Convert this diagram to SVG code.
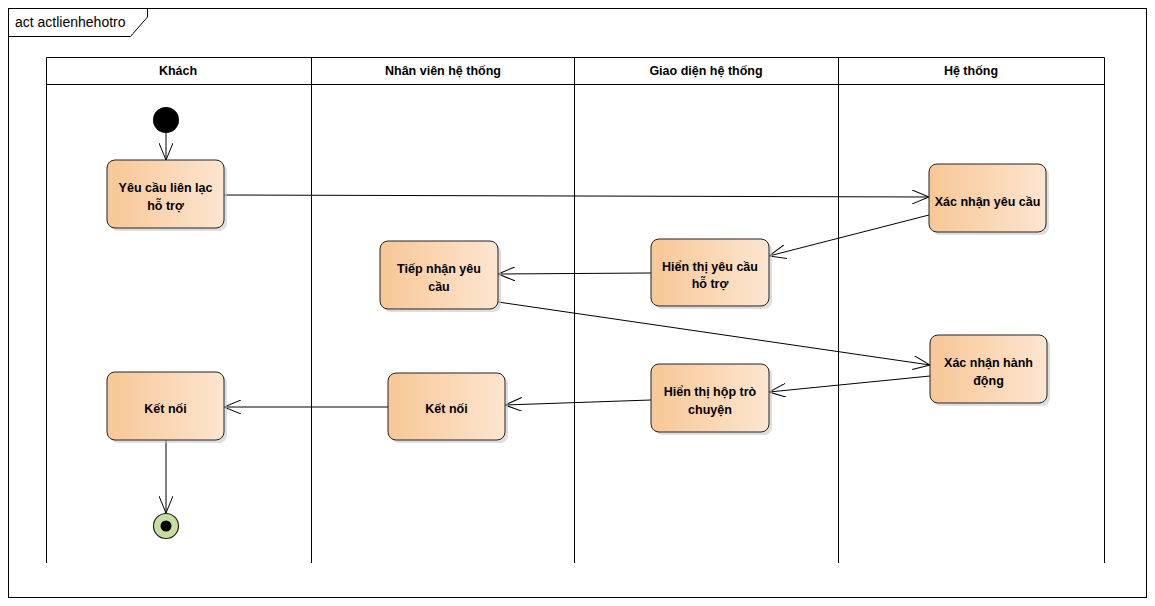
<svg xmlns="http://www.w3.org/2000/svg" width="1155" height="606" viewBox="0 0 1155 606">
<defs>
<linearGradient id="g" x1="0" y1="0" x2="1" y2="0">
<stop offset="0" stop-color="#F7C796"/>
<stop offset="1" stop-color="#FDE5D0"/>
</linearGradient>
<marker id="a" markerWidth="20" markerHeight="14" refX="17" refY="7" orient="auto" markerUnits="userSpaceOnUse">
<path d="M0,0 L17,7 L0,14" fill="none" stroke="#000" stroke-width="1"/>
</marker>
<style>
text{font-family:"Liberation Sans",Arial,sans-serif;font-weight:bold;font-size:12.5px;fill:#000;text-anchor:middle}
.t{text-anchor:start;font-weight:normal;font-size:14px}
.n{fill:url(#g);stroke:#222;stroke-width:1}
.s{fill:#C8C8C8;opacity:0.6}
.c line{stroke:#000;stroke-width:1;marker-end:url(#a)}
.l{stroke:#000;stroke-width:1;fill:none}
</style>
</defs>
<rect x="0" y="0" width="1155" height="606" fill="#fff"/>
<g id="frame">
<rect x="8.5" y="8.5" width="1138" height="589" class="l"/>
<path d="M8.5,36.5 H130.5 L147.5,17 V8.5" class="l"/>
<text x="15" y="27" class="t">act actlienhehotro</text>
</g>
<g id="lanes">
<path d="M46.5,563 V57.5 H1104.5 V563 M46.5,84.5 H1104.5 M311.5,57.5 V563 M574.5,57.5 V563 M838.5,57.5 V563" class="l"/>
<text x="178" y="75">Khách</text>
<text x="443" y="75">Nhân viên hệ thống</text>
<text x="706" y="75">Giao diện hệ thống</text>
<text x="971" y="75">Hệ thống</text>
</g>
<g class="c" id="connectors">
<line x1="166" y1="133" x2="166" y2="160"/>
<line x1="224" y1="195" x2="929" y2="197"/>
<line x1="929" y1="215" x2="769" y2="256"/>
<line x1="651" y1="273" x2="498" y2="274"/>
<line x1="498" y1="302" x2="930" y2="365"/>
<line x1="930" y1="376" x2="769" y2="392"/>
<line x1="651" y1="400" x2="505" y2="405"/>
<line x1="388" y1="407" x2="224" y2="407"/>
<line x1="166" y1="440" x2="166" y2="513"/>
</g>
<g id="start"><circle cx="166" cy="120" r="13" fill="#000"/></g>
<g id="n1"><rect x="110" y="163" width="117" height="68" rx="8" class="s"/><rect x="107" y="160" width="117" height="68" rx="8" class="n"/><text x="165.5" y="192">Yêu cầu liên lạc</text><text x="165.5" y="210">hỗ trợ</text></g>
<g id="n2"><rect x="932" y="167" width="117" height="68" rx="8" class="s"/><rect x="929" y="164" width="117" height="68" rx="8" class="n"/><text x="987.5" y="206">Xác nhận yêu cầu</text></g>
<g id="n3"><rect x="654" y="242" width="118" height="67" rx="8" class="s"/><rect x="651" y="239" width="118" height="67" rx="8" class="n"/><text x="710" y="271">Hiển thị yêu cầu</text><text x="710" y="288">hỗ trợ</text></g>
<g id="n4"><rect x="383" y="244" width="118" height="68" rx="8" class="s"/><rect x="380" y="241" width="118" height="68" rx="8" class="n"/><text x="439" y="273">Tiếp nhận yêu</text><text x="439" y="291">cầu</text></g>
<g id="n5"><rect x="933" y="338" width="117" height="68" rx="8" class="s"/><rect x="930" y="335" width="117" height="68" rx="8" class="n"/><text x="988.5" y="367">Xác nhận hành</text><text x="988.5" y="385">động</text></g>
<g id="n6"><rect x="654" y="367" width="118" height="68" rx="8" class="s"/><rect x="651" y="364" width="118" height="68" rx="8" class="n"/><text x="710" y="396">Hiển thị hộp trò</text><text x="710" y="414">chuyện</text></g>
<g id="n7"><rect x="391" y="376" width="117" height="67" rx="8" class="s"/><rect x="388" y="373" width="117" height="67" rx="8" class="n"/><text x="446.5" y="413">Kết nối</text></g>
<g id="n8"><rect x="110" y="375" width="117" height="68" rx="8" class="s"/><rect x="107" y="372" width="117" height="68" rx="8" class="n"/><text x="165.5" y="413">Kết nối</text></g>
<g id="end"><circle cx="166" cy="526" r="12.5" fill="#C6DEA0" stroke="#222" stroke-width="1.2"/><circle cx="166" cy="526" r="5.5" fill="#000"/></g>
</svg>
